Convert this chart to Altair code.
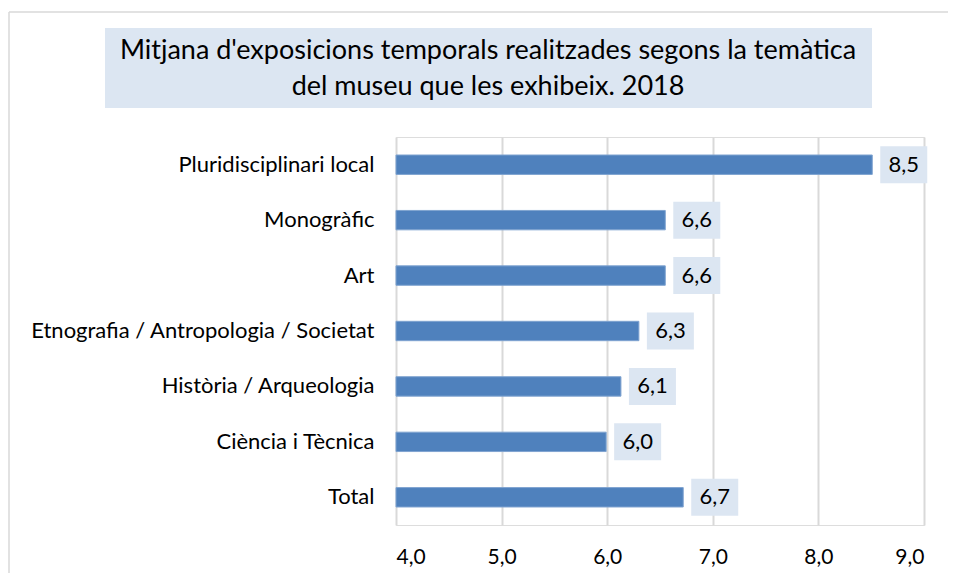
import altair as alt
import pandas as pd

categories = [
    "Pluridisciplinari local",
    "Monogràfic",
    "Art",
    "Etnografia / Antropologia / Societat",
    "Història / Arqueologia",
    "Ciència i Tècnica",
    "Total",
]
values = [8.51, 6.55, 6.55, 6.30, 6.13, 5.99, 6.72]
value_labels = ["8,5", "6,6", "6,6", "6,3", "6,1", "6,0", "6,7"]
x_ticks = [4, 5, 6, 7, 8, 9]
title_lines = [
    "Mitjana d'exposicions temporals realitzades segons la temàtica",
    "del museu que les exhibeix. 2018",
]

FONT = "Lato"
df = pd.DataFrame({"cat": categories, "value": values, "label": value_labels})
one = pd.DataFrame({"a": [0]})

y_enc = alt.Y(
    "cat:N",
    sort=categories,
    title=None,
    scale=alt.Scale(paddingInner=0.65, paddingOuter=0.325),
    axis=alt.Axis(domain=False, ticks=False, labelPadding=22, labelFontSize=22,
                  labelFont=FONT, labelColor="#000000", labelLimit=400),
)
x_scale = alt.Scale(domain=[4, 9], zero=False, nice=False)
x_enc = alt.X(
    "value:Q",
    scale=x_scale,
    title=None,
    axis=alt.Axis(values=x_ticks, domain=False, ticks=False, grid=True,
                  gridColor="#D9D9D9", gridWidth=2, labelPadding=21,
                  labelFontSize=21, labelFont=FONT, labelColor="#000000",
                  labelExpr="replace(format(datum.value, '.1f'), '.', ',')"),
)

border_top = alt.Chart(one).mark_rule(color="#D9D9D9", strokeWidth=1.5).encode(
    x=alt.value(-387), x2=alt.value(570), y=alt.value(-125)
)
border_left = alt.Chart(one).mark_rule(color="#D9D9D9", strokeWidth=1.5).encode(
    x=alt.value(-387), y=alt.value(-125), y2=alt.value(460)
)
title_box = alt.Chart(one).mark_rect(fill="#DCE6F2").encode(
    x=alt.value(-291), x2=alt.value(476), y=alt.value(-109), y2=alt.value(-29)
)
title_text = alt.Chart(pd.DataFrame({"t": [title_lines[0]]})).mark_text(
    font=FONT, fontSize=27, color="#000000", align="center", baseline="middle"
).encode(text="t:N", x=alt.value(92), y=alt.value(-86))
title_text2 = alt.Chart(pd.DataFrame({"t": [title_lines[1]]})).mark_text(
    font=FONT, fontSize=27, color="#000000", align="center", baseline="middle"
).encode(text="t:N", x=alt.value(92), y=alt.value(-50))

base = alt.Chart(df)
bars = base.mark_bar(color="#4F81BD", stroke="#7FA3D0", strokeWidth=1).encode(
    y=y_enc, x=x_enc, x2=alt.datum(4)
)
boxes = base.mark_bar(color="#DCE6F2", height=37, xOffset=8, x2Offset=55).encode(
    y=alt.Y("cat:N", sort=categories), x=alt.X("value:Q", scale=x_scale), x2="value:Q"
)
texts = base.mark_text(font=FONT, fontSize=22, color="#000000", align="center",
                       baseline="middle", dx=31.5).encode(
    y=alt.Y("cat:N", sort=categories), x=alt.X("value:Q", scale=x_scale), text="label:N"
)

chart = alt.layer(border_top, border_left, title_box, title_text, title_text2,
                  bars, boxes, texts).properties(
    width=528, height=388,
    autosize=alt.AutoSizeParams(type="none"),
    padding={"left": 388, "top": 129, "right": 24, "bottom": 48},
).configure_view(stroke=None).configure(background="white")

chart.save("out.html", embed_options={"renderer": "svg", "actions": False})
